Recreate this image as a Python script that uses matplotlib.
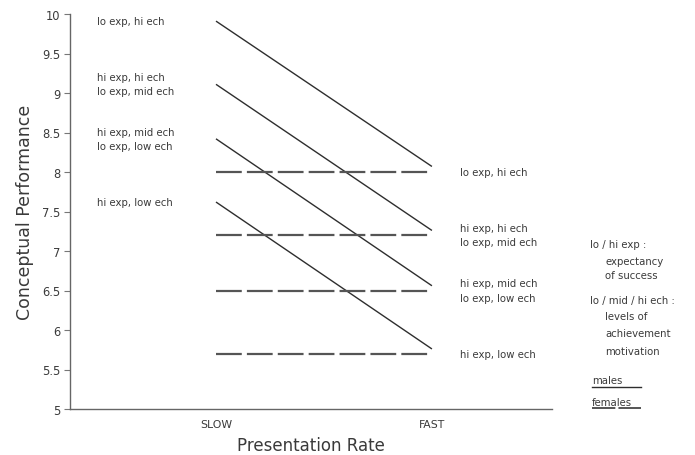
import matplotlib.pyplot as plt
from matplotlib.lines import Line2D

# Presentation rate conditions
rates = ['SLOW', 'FAST']

# Males (solid lines): conceptual performance at slow / fast rate
male_groups = ['lo exp, hi ech', 'hi exp, hi ech', 'hi exp, mid ech', 'hi exp, low ech']
male_slow = [9.91, 9.11, 8.42, 7.62]
male_fast = [8.07, 7.26, 6.56, 5.76]

# Females (dashed lines): same performance at both rates
female_groups = ['lo exp, hi ech', 'lo exp, mid ech', 'lo exp, low ech', 'hi exp, low ech']
female_slow = [8.0, 7.2, 6.5, 5.7]
female_fast = [8.0, 7.2, 6.5, 5.7]

# Labels beside the lines (pairs share one level)
left_labels = [['lo exp, hi ech'], ['hi exp, hi ech', 'lo exp, mid ech'],
               ['hi exp, mid ech', 'lo exp, low ech'], ['hi exp, low ech']]
right_labels = [['lo exp, hi ech'], ['hi exp, hi ech', 'lo exp, mid ech'],
                ['hi exp, mid ech', 'lo exp, low ech'], ['hi exp, low ech']]

ink = '#2e2e2e'
txt = '#3a3a3a'
small = 7.3

fig = plt.figure(figsize=(6.95, 4.56), dpi=100)
ax = fig.add_axes([70/695, 1 - 410/456, (552-70)/695, (410-15)/456])

x = [0, 1]
for s, f in zip(male_slow, male_fast):
    ax.plot(x, [s, f], color=ink, lw=1.0, solid_capstyle='butt')
for s, f in zip(female_slow, female_fast):
    ax.plot(x, [s, f], color='#555555', lw=1.6, dashes=(11.6, 2.3),
            dash_capstyle='butt')

ax.set_xlim(-0.676, 1.556)
ax.set_ylim(5, 10)
ax.set_yticks([5, 5.5, 6, 6.5, 7, 7.5, 8, 8.5, 9, 9.5, 10])
ax.set_yticklabels(['5', '5.5', '6', '6.5', '7', '7.5', '8', '8.5', '9', '9.5', '10'])
ax.set_xticks(x)
ax.set_xticklabels(rates)
ax.tick_params(axis='x', length=0, pad=7, labelsize=7.8, colors=txt)
ax.tick_params(axis='y', length=4, width=0.8, pad=3, labelsize=8.3, colors=txt, color='#777777')
for side in ['top', 'right']:
    ax.spines[side].set_visible(False)
for side in ['left', 'bottom']:
    ax.spines[side].set_color('#666666')
    ax.spines[side].set_linewidth(1.0)

ax.set_ylabel('Conceptual Performance', fontsize=12.5, color=txt, labelpad=6)
ax.set_xlabel('Presentation Rate', fontsize=12, color=txt, labelpad=5)

# group labels on the left, centred on the male start values
gap = 0.09
for lbls, y in zip(left_labels, male_slow):
    offs = [0] if len(lbls) == 1 else [gap, -gap]
    for l, o in zip(lbls, offs):
        ax.text(-0.55, y + o, l, fontsize=small, color=txt, va='center', ha='left')

# group labels on the right, centred on the female values
for lbls, y in zip(right_labels, female_fast):
    offs = [0] if len(lbls) == 1 else [gap, -gap]
    for l, o in zip(lbls, offs):
        ax.text(1.13, y + o, l, fontsize=small, color=txt, va='center', ha='left')

# key on the right side
key = [(590, 245, 'lo / hi exp :'), (605, 262, 'expectancy'), (605, 276, 'of success'),
       (590, 301, 'lo / mid / hi ech :'), (605, 317, 'levels of'),
       (605, 334, 'achievement'), (605, 352, 'motivation'),
       (592, 381, 'males'), (592, 403, 'females')]
for px, py, s in key:
    fig.text(px/695, 1 - py/456, s, fontsize=small, color=txt, va='center', ha='left')

fig.add_artist(Line2D([592/695, 641/695], [1 - 388/456] * 2, color=ink, lw=1.0))
fig.add_artist(Line2D([592/695, 641/695], [1 - 409/456] * 2, color='#555555',
                      lw=1.4, dashes=(12, 1.6), dash_capstyle='butt'))

fig.savefig('out.png', dpi=100, facecolor='white')
